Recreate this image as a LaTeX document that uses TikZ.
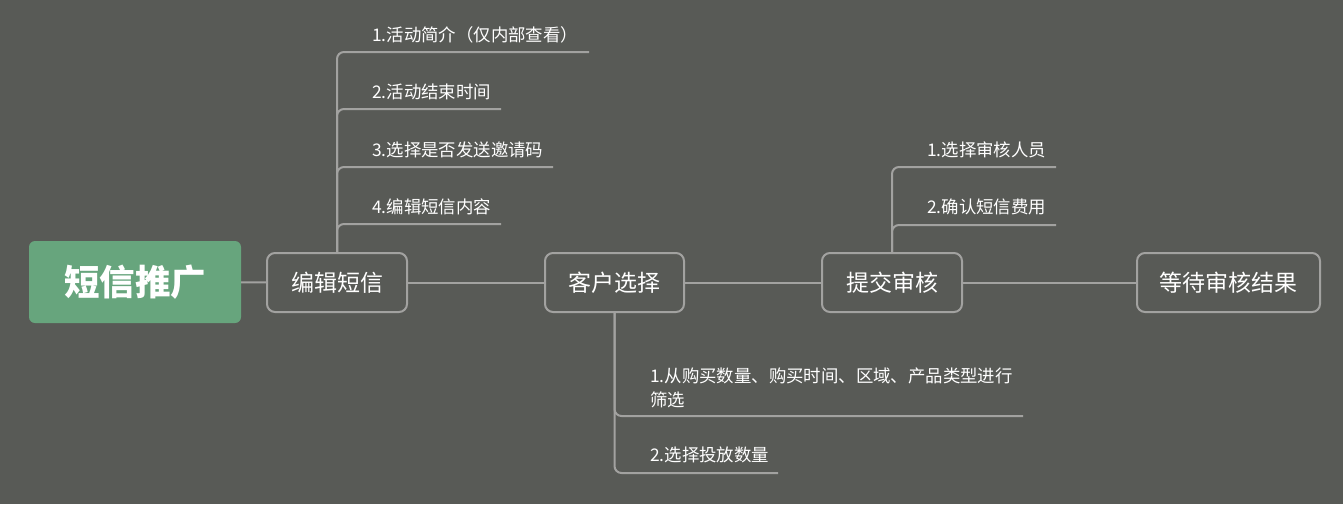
\documentclass[tikz,border=0pt]{standalone}
\usepackage{fontspec}
\setmainfont{Noto Sans CJK SC}
\begin{document}
\begin{tikzpicture}[x=1pt,y=-1pt,
  every node/.style={text=white},
  rootbox/.style={fill=rootgreen,rounded corners=6pt,minimum width=212pt,minimum height=82pt,inner sep=0pt,font=\fontsize{35.5}{40}\selectfont\bfseries},
  mainbox/.style={draw=linegray,line width=2pt,rounded corners=8pt,minimum height=59pt,inner sep=0pt,font=\fontsize{23}{28}\selectfont},
  item/.style={anchor=west,inner sep=0pt,align=left,font=\fontsize{17.4}{24}\selectfont},
  conn/.style={draw=linegray,line width=2pt},
  branch/.style={draw=linegray,line width=2pt,rounded corners=7pt}]
\definecolor{bg}{RGB}{88,90,86}
\definecolor{rootgreen}{RGB}{103,165,125}
\definecolor{linegray}{RGB}{162,162,160}
\fill[bg] (0,0) rectangle (1343,504);
\useasboundingbox (0,0) rectangle (1343,504);

\node[rootbox] (root) at (135,282) {短信推广};
\node[mainbox,minimum width=140pt] (edit) at (337,282.5) {编辑短信};
\node[mainbox,minimum width=139pt] (cust) at (614.5,282.5) {客户选择};
\node[mainbox,minimum width=140pt] (sub) at (892,282.5) {提交审核};
\node[mainbox,minimum width=183pt] (wait) at (1228.5,282.5) {等待审核结果};

\draw[conn] (root) -- (edit);
\draw[conn] (edit) -- (cust);
\draw[conn] (cust) -- (sub);
\draw[conn] (sub) -- (wait);

% edit branch
\node[item] (e1) at (372,35) {1.活动简介（仅内部查看）};
\node[item] (e2) at (372,92) {2.活动结束时间};
\node[item] (e3) at (372,150) {3.选择是否发送邀请码};
\node[item] (e4) at (372,207) {4.编辑短信内容};
\coordinate (e1e) at (589,52);
\coordinate (e2e) at (501,109);
\coordinate (e3e) at (553,167);
\coordinate (e4e) at (501,224);
\draw[branch] (edit.north) |- (e1e);
\draw[branch] (edit.north) |- (e2e);
\draw[branch] (edit.north) |- (e3e);
\draw[branch] (edit.north) |- (e4e);

% customer branch
\node[item] (c1) at (650,388) {1.从购买数量、购买时间、区域、产品类型进行\\筛选};
\node[item] (c2) at (650,455) {2.选择投放数量};
\coordinate (c1e) at (1023,416);
\coordinate (c2e) at (778,473);
\draw[branch] (cust.south) |- (c1e);
\draw[branch] (cust.south) |- (c2e);

% submit branch
\node[item] (s1) at (927,150) {1.选择审核人员};
\node[item] (s2) at (927,207) {2.确认短信费用};
\coordinate (s1e) at (1056,167);
\coordinate (s2e) at (1056,225);
\draw[branch] (sub.north) |- (s1e);
\draw[branch] (sub.north) |- (s2e);
\end{tikzpicture}
\end{document}
